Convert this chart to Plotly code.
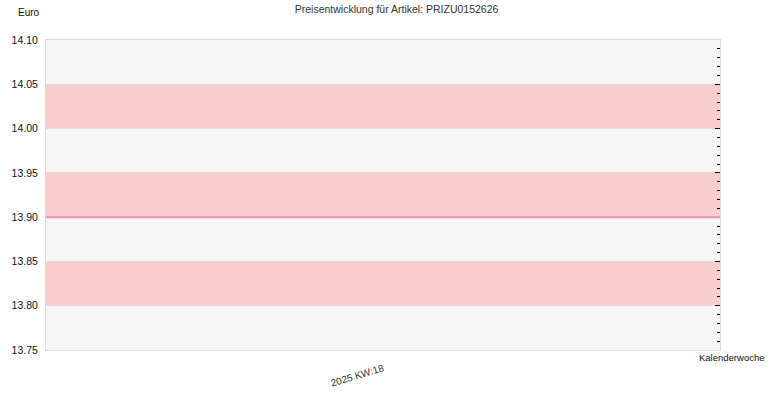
import plotly.graph_objects as go

# data
weeks = ["2025 KW:18"]
prices = [13.90]
y_ticks = [13.75, 13.80, 13.85, 13.90, 13.95, 14.00, 14.05, 14.10]
minor_ticks = [round(13.75 + i * 0.01, 2) for i in range(36)]

FONT = "Liberation Sans"

fig = go.Figure()

# invisible marker so the category axis exists
fig.add_trace(go.Scatter(x=weeks, y=prices, mode="markers",
                         marker=dict(size=1, color="rgba(0,0,0,0)"),
                         showlegend=False, hoverinfo="x+y"))

# price level line across the whole plot
for p in prices:
    fig.add_shape(type="line", xref="paper", yref="y", x0=0, x1=1, y0=p, y1=p,
                  line=dict(color="#f08cc8", width=2), layer="above")

# alternating pink bands
for i in range(len(y_ticks) - 1):
    if i % 2 == 1:
        fig.add_shape(type="rect", xref="paper", yref="y", x0=0, x1=1,
                      y0=y_ticks[i], y1=y_ticks[i + 1],
                      fillcolor="#f8cccc", line=dict(width=0), layer="below")

# right side tick marks (minor + major)
fig.add_trace(go.Scatter(x=weeks, y=prices, yaxis="y2", mode="markers",
                         marker=dict(size=1, color="rgba(0,0,0,0)"),
                         showlegend=False, hoverinfo="skip"))

fig.update_layout(
    width=770, height=400,
    margin=dict(l=46, r=50, t=40, b=50),
    paper_bgcolor="white", plot_bgcolor="#f6f6f6",
    font=dict(family=FONT, size=11, color="#222"),
    title=dict(text="Preisentwicklung für Artikel: PRIZU0152626",
               x=0.515, xanchor="center", y=0.985, yanchor="top",
               font=dict(family=FONT, size=10.5, color="#333")),
    xaxis=dict(type="category", range=[-0.5, 0.5], showgrid=False,
               tickangle=-17, ticks="", showline=True, linecolor="#dddddd",
               mirror=True, zeroline=False, ticklabelstandoff=8,
               tickfont=dict(family=FONT, size=10, color="#333")),
    yaxis=dict(range=[13.75, 14.10], tickvals=y_ticks,
               ticktext=["%.2f" % v for v in y_ticks],
               showgrid=True, gridcolor="#dddddd", gridwidth=1,
               showline=True, linecolor="#dddddd", mirror=True,
               zeroline=False, ticks="", ticklen=0, ticklabelstandoff=5,
               tickfont=dict(family=FONT, size=10.5, color="#111")),
    yaxis2=dict(range=[13.75, 14.10], overlaying="y", side="right",
                tickvals=minor_ticks, showticklabels=False, showgrid=False,
                ticks="inside", ticklen=3, tickwidth=1, tickcolor="#000",
                zeroline=False,
                minor=dict(tickvals=y_ticks, ticks="inside", ticklen=5,
                           tickwidth=1, tickcolor="#000")),
    annotations=[
        dict(text="Euro", xref="paper", yref="paper", x=-0.025, y=1.09,
             xanchor="center", yanchor="middle", showarrow=False,
             font=dict(family=FONT, size=10, color="#111")),
        dict(text="Kalenderwoche", xref="paper", yref="paper", x=1.018, y=-0.0,
             xanchor="center", yanchor="top", showarrow=False,
             font=dict(family=FONT, size=9.5, color="#111")),
    ],
)

fig.write_html("out.html", config={"displayModeBar": False},
               post_script="document.body.style.margin='0';")
